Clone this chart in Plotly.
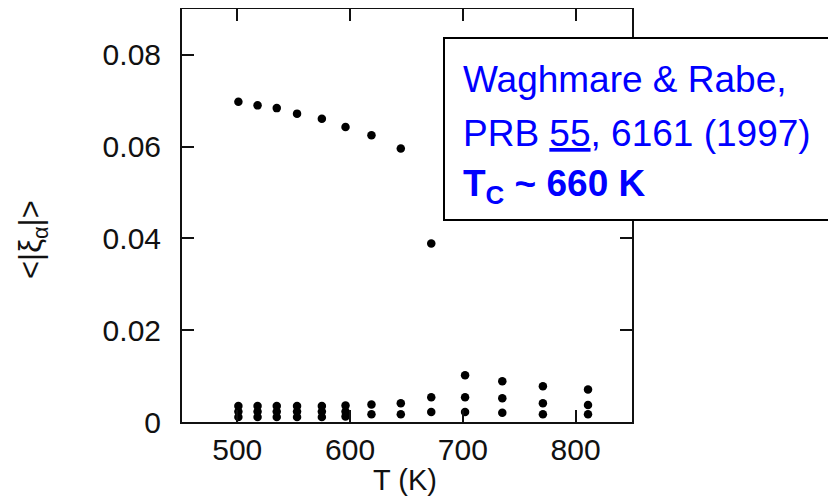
import plotly.graph_objects as go

# Large order-parameter component (below Tc)
T_big = [501, 518, 535, 553, 575, 596, 619, 645, 672]
xi_big = [0.0698, 0.0690, 0.0684, 0.0672, 0.0661, 0.0643, 0.0625, 0.0596, 0.0389]

# Small components at each temperature
T_small = [501, 518, 535, 553, 575, 596, 619, 645, 672, 702, 735, 771, 811]
xi_small_1 = [0.0035, 0.0035, 0.0035, 0.0035, 0.0035, 0.0036, 0.0038, 0.0041, 0.0054, 0.0102, 0.0089, 0.0078, 0.0071]
xi_small_2 = [0.0023, 0.0023, 0.0023, 0.0023, 0.0023, 0.0023, 0.0017, 0.0017, 0.0022, 0.0054, 0.0052, 0.0041, 0.0037]
xi_small_3 = [0.0011, 0.0011, 0.0011, 0.0011, 0.0011, 0.0012, None, None, None, 0.0022, 0.0020, 0.0017, 0.0017]

x_ticks = [500, 600, 700, 800]
y_ticks = [0, 0.02, 0.04, 0.06, 0.08]
y_tick_text = ["0", "0.02", "0.04", "0.06", "0.08"]

FONT = "Liberation Sans, Arial, sans-serif"
TXT = "#111"
marker = dict(color="black", size=8.5)

fig = go.Figure()
for xs, ys in [(T_big, xi_big), (T_small, xi_small_1), (T_small, xi_small_2), (T_small, xi_small_3)]:
    fig.add_trace(go.Scatter(x=xs, y=ys, mode="markers", marker=marker, showlegend=False))

# page body adds an 8px offset; target frame 182..632 x 8..422 on screen
OFF = 8
L, R, T, B = 182 - OFF, 632 - OFF, 9 - OFF, 422 - OFF
W, H = 836, 501

fig.update_layout(
    width=W, height=H,
    margin=dict(l=L, r=W - R, t=T, b=H - B, autoexpand=False),
    paper_bgcolor="white", plot_bgcolor="white",
    font=dict(family=FONT, size=30, color=TXT),
)
fig.update_xaxes(range=[451, 850], tickvals=x_ticks, ticks="inside", ticklen=12, tickwidth=2,
                 tickcolor="#111", showline=True, linewidth=2, linecolor="#111", mirror="ticks",
                 showgrid=False, zeroline=False, ticklabelstandoff=0, automargin=False,
                 tickfont=dict(family=FONT, size=30, color=TXT))
fig.update_yaxes(range=[0, 0.09], tickvals=y_ticks, ticktext=y_tick_text, ticks="inside", ticklen=12,
                 tickwidth=2, tickcolor="#111", showline=True, linewidth=2, linecolor="#111",
                 mirror="ticks", showgrid=False, zeroline=False, ticklabelstandoff=13, automargin=False,
                 tickfont=dict(family=FONT, size=30, color=TXT))

def px(xp):
    return (xp - OFF - L) / (R - L)

def py(yp):
    return (B - (yp - OFF)) / (B - T)

# axis titles
fig.add_annotation(text="T (K)", x=px(405), y=py(480), xref="paper", yref="paper",
                   xanchor="center", yanchor="middle",
                   showarrow=False, font=dict(family=FONT, size=29, color=TXT))
fig.add_annotation(text="<|ξ<sub>α</sub>|>", x=px(33), y=py(240), xref="paper", yref="paper",
                   xanchor="center", yanchor="middle",
                   showarrow=False, textangle=-90, font=dict(family=FONT, size=31, color=TXT))

# citation box
fig.add_shape(type="rect", xref="paper", yref="paper", x0=px(444), x1=px(845), y0=py(220), y1=py(38),
              line=dict(color="black", width=2), fillcolor="white", layer="above")
blue = "#0000ff"
lines = [
    ("Waghmare &amp; Rabe,", 79),
    ("PRB <u>55</u>, 6161 (1997)", 133),
    ("<b>T<sub>C</sub> ~ 660 K</b>", 186),
]
for txt, yc in lines:
    fig.add_annotation(text=txt, x=px(461), y=py(yc), xref="paper", yref="paper", xanchor="left",
                       yanchor="middle", showarrow=False, align="left",
                       font=dict(family=FONT, size=37, color=blue))

fig.write_html("out.html")
